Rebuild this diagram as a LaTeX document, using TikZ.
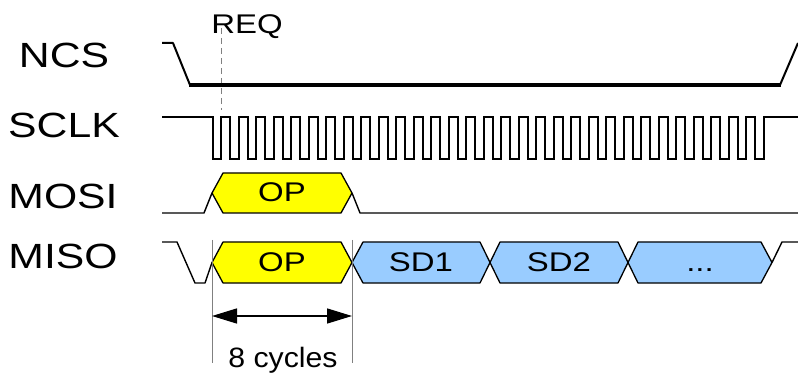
\documentclass[tikz,border=0pt]{standalone}
\usepackage{fontspec}
\setmainfont{Liberation Sans}[FakeStretch=1.22]
\usetikzlibrary{arrows.meta}
\definecolor{sdblue}{RGB}{153,204,255}
\definecolor{opyellow}{RGB}{255,255,0}
\tikzset{dimtip/.tip={Triangle[length=25pt,width=15pt]}}
\begin{document}
\begin{tikzpicture}[x=1pt,y=-1pt,
  sig/.style={black,line width=1.4pt,line join=round},
  clk/.style={black,line width=2pt,line join=miter},
  hexY/.style={fill=opyellow,draw=black,line width=1.3pt,line join=round},
  hexB/.style={fill=sdblue,draw=black,line width=1.3pt,line join=round},
  signame/.style={font=\fontsize{35}{40}\selectfont,anchor=base,inner sep=0pt},
  dat/.style={font=\fontsize{27}{30}\selectfont,anchor=base,inner sep=0pt},
  guide/.style={gray,line width=1pt},
]
\useasboundingbox (0,0) rectangle (798,374);

% signal names
\node[signame] (ncs)  at (64,67.5)  {NCS};
\node[signame] (sclk) at (64,138) {SCLK};
\node[signame] (mosi) at (63,208.5) {MOSI};
\node[signame] (miso) at (63,268.5) {MISO};

% REQ marker
\node[dat] (req) at (247,34) {REQ};
\coordinate (reqtop) at (221,28);
\coordinate (reqbot) at (221,110);
\draw[gray,line width=1pt,dash pattern=on 6pt off 4pt] (reqtop) -- (reqbot);

% NCS
\draw[sig,line width=2pt] (162,43) -- (173,43) -- (190,85);
\draw[black,line width=3.5pt] (189,85) -- (781,85);
\draw[sig,line width=2pt] (780,85) -- (798,43);

% SCLK
\draw[clk] (162,117) -- (212.5,117)
  \foreach \k in {0,...,31}{ -- ++(0,42) -- ++(8.5,0) -- ++(0,-42) -- ++(9,0) }
  -- (798,117);

% MOSI
\draw[sig] (162,213) -- (204,213) -- (212,193);
\draw[sig] (352,193) -- (360,213) -- (798,213);
\draw[hexY] (212,193) -- (223,173) -- (341,173) -- (352,193) -- (341,213) -- (223,213) -- cycle;
\node[dat] (opmosi) at (282,202) {OP};

% MISO
\draw[sig] (162,242) -- (177,242) -- (195,283) -- (205,283) -- (212,262.5);
\draw[hexY] (212,262.5) -- (223,242) -- (341,242) -- (352,262.5) -- (341,283) -- (223,283) -- cycle;
\draw[hexB] (352,262.5) -- (363,242) -- (480,242) -- (490,262.5) -- (480,283) -- (363,283) -- cycle;
\draw[hexB] (490,262.5) -- (500,242) -- (618,242) -- (628,262.5) -- (618,283) -- (500,283) -- cycle;
\draw[hexB] (628,262.5) -- (638,242) -- (761,242) -- (772,262.5) -- (761,283) -- (638,283) -- cycle;
\draw[sig] (772,262.5) -- (782,242) -- (798,242);
\node[dat] (opmiso) at (282,271) {OP};
\node[dat] (sd1) at (421,271) {SD1};
\node[dat] (sd2) at (559,271) {SD2};
\node[dat] (sdn) at (700,271) {...};

% 8 cycles dimension
\coordinate (g1t) at (212,240);
\coordinate (g1b) at (212,363);
\coordinate (g2t) at (352,240);
\coordinate (g2b) at (352,363);
\draw[guide] (g1t) -- (g1b);
\draw[guide] (g2t) -- (g2b);
\coordinate (a1) at (212,316);
\coordinate (a2) at (352,316);
\draw[black,line width=1.5pt,dimtip-dimtip] (a1) -- (a2);
\node[font=\fontsize{28}{30}\selectfont\addfontfeature{FakeStretch=1.08},anchor=base,inner sep=0pt] (cyc) at (283,367) {8 cycles};
\end{tikzpicture}
\end{document}
